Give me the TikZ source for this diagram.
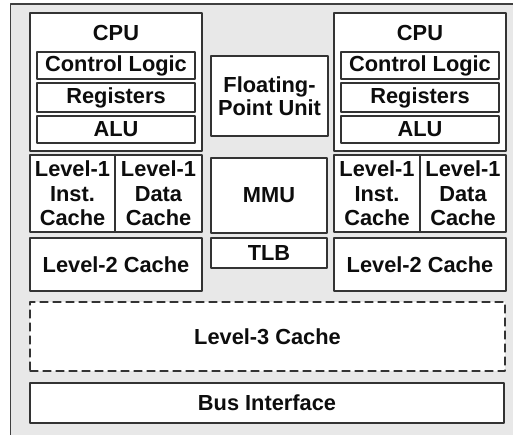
\documentclass[tikz,border=0pt]{standalone}
\usepackage{fontspec}
\setmainfont{Liberation Sans}
\usepackage{tikz}
\begin{document}
\begin{tikzpicture}[
  x=1pt,y=-1pt,
  line cap=round,
  line join=round,
  unit/.style={draw=black!80,fill=white,line width=1.4pt,rectangle,inner sep=0pt,
    font=\bfseries\fontsize{21.8}{24.5}\selectfont,align=center,text=black!95},
  cache/.style={unit,dashed,dash pattern=on 8pt off 5pt,line width=1.3pt},
  lbl/.style={font=\bfseries\fontsize{21.8}{24.5}\selectfont,text=black!95,inner sep=0pt}
]
  \useasboundingbox (0,0) rectangle (513,435);
  % Chip outline
  \fill[black!9] (10.5,4) rectangle (520,440);
  \draw[black!75,line width=1.5pt] (10.5,440) -- (10.5,4) -- (520,4);

  % Left core
  \node[unit,minimum width=172,minimum height=138] (cpuA) at (116,82) {};
  \node[lbl] (cpuAname) at (116,33) {CPU};
  \node[unit,minimum width=158,minimum height=27] (ctlA) at (116,65.5) {Control Logic};
  \node[unit,minimum width=158,minimum height=29] (regA) at (116,97.5) {Registers};
  \node[unit,minimum width=158,minimum height=27] (aluA) at (116,129.5) {ALU};
  \node[unit,minimum width=85,minimum height=77] (lieA) at (72.5,193.5) {Level-1\\Inst.\\Cache};
  \node[unit,minimum width=87,minimum height=77] (ldaA) at (158.5,193.5) {Level-1\\Data\\Cache};
  \node[unit,minimum width=172,minimum height=53] (ltwoA) at (116,264.5) {Level-2 Cache};

  % Right core
  \node[unit,minimum width=172,minimum height=138] (cpuB) at (420,82) {};
  \node[lbl] (cpuBname) at (420,33) {CPU};
  \node[unit,minimum width=158,minimum height=27] (ctlB) at (420,65.5) {Control Logic};
  \node[unit,minimum width=158,minimum height=29] (regB) at (420,97.5) {Registers};
  \node[unit,minimum width=158,minimum height=27] (aluB) at (420,129.5) {ALU};
  \node[unit,minimum width=86,minimum height=77] (lieB) at (377,193.5) {Level-1\\Inst.\\Cache};
  \node[unit,minimum width=86,minimum height=77] (ldaB) at (463,193.5) {Level-1\\Data\\Cache};
  \node[unit,minimum width=172,minimum height=53] (ltwoB) at (420,264.5) {Level-2 Cache};

  % Shared units
  \node[unit,minimum width=117,minimum height=80,font=\bfseries\fontsize{21.8}{22.5}\selectfont]
    (fpu) at (269.5,96) {Floating-\\Point Unit};
  \node[unit,minimum width=116,minimum height=75] (mmu) at (269,195.5) {MMU};
  \node[unit,minimum width=116,minimum height=30] (tlb) at (269,253) {TLB};
  \node[cache,minimum width=475,minimum height=69] (lthree) at (267.5,336.5) {Level-3 Cache};
  \node[unit,minimum width=474,minimum height=40] (bus) at (267,403) {Bus Interface};
\end{tikzpicture}
\end{document}
